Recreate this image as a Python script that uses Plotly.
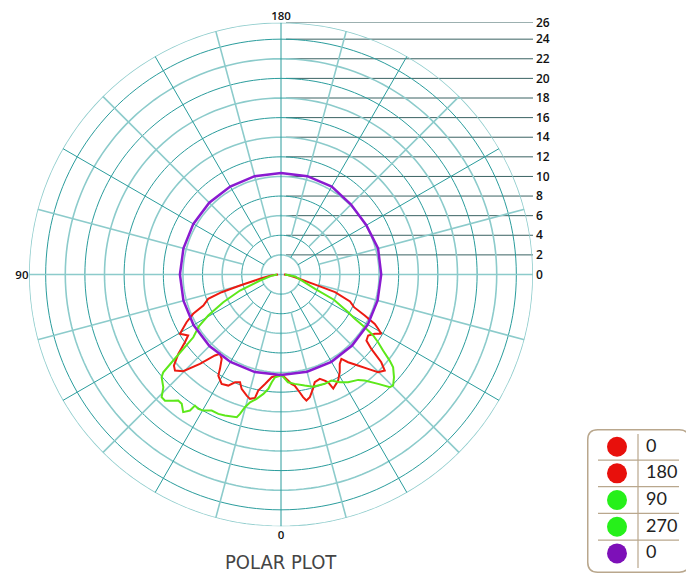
import plotly.graph_objects as go

# ---------------- data ----------------
R_MAX = 25.7                      # outer ring of the polar grid
RADIAL_TICKS = [0, 2, 4, 6, 8, 10, 12, 14, 16, 18, 20, 22, 24, 26]
ANGLE_TICKS = [0, 90, 180]

SERIES_NAMES = ["0", "180", "90", "270", "0"]
LINE_COLORS = ["#ec1b12", "#ec1b12", "#5de81a", "#5de81a", "#8a1ad0"]
MARKER_COLORS = ["#e8100c", "#e8100c", "#26f01a", "#26f01a", "#7d10b8"]

# C0 plane (left half), gamma angle in degrees
RED_0_THETA = [0, 2.4, 5.2, 8.3, 11.1, 11.9, 14.0, 15.8, 19.0, 20.8,
               23.1, 25.4, 28.5, 31.8, 32.9, 35.1, 37.6, 39.2, 42.2, 45.3,
               47.8, 49.6, 52.3, 54.8, 56.7, 59.6, 63.2, 65.9, 68.2, 71.5,
               73.4, 75.0, 78.4, 84, 90]
RED_0_R = [10.2, 10.32, 10.52, 11.28, 12.06, 12.86, 13.07, 12.84, 12.34, 11.76,
           11.95, 12.54, 12.69, 12.13, 11.46, 10.52, 10.21, 10.66, 12.31, 14.02,
           14.59, 14.34, 13.24, 11.99, 11.33, 11.95, 10.79, 9.81, 8.53, 7.83,
           6.32, 4.33, 2.18, 1.0, 0.3]

# C180 plane (right half), gamma angle
RED_180_GAMMA = [0, 2.0, 3.8, 5.4, 7.0, 9.0, 10.2, 11.4, 13.2, 15.6,
                 17.4, 20.4, 22.4, 23.6, 24.0, 24.6, 28.3, 31.0, 33.3, 35.6,
                 37.4, 40.2, 42.7, 44.8, 47.2, 48.8, 49.6, 50.5, 52.3, 55.0,
                 57.7, 59.4, 60.8, 62.2, 63.9, 65.9, 68.7, 71.9, 73.5, 79.0,
                 85, 90]
RED_180_R = [10.2, 10.49, 10.84, 11.2, 11.41, 12.16, 12.71, 13.11, 12.86, 12.11,
             11.51, 11.36, 11.7, 11.99, 12.3, 12.8, 12.29, 11.63, 10.91, 10.58,
             11.26, 12.16, 13.09, 14.05, 14.42, 13.59, 12.77, 11.94, 11.01, 10.85,
             11.32, 11.89, 11.35, 10.81, 9.51, 8.16, 7.55, 5.8, 3.64, 1.46,
             0.7, 0.3]

# C90 plane (left half)
GREEN_90_THETA = [0, 3.3, 4.9, 6.3, 8.4, 11.1, 13.6, 15.2, 16.4, 17.2,
                  21.7, 24.2, 27.0, 29.7, 31.6, 33.3, 33.8, 35.4, 37.5, 39.2,
                  40.5, 42.6, 44.2, 46.2, 49.3, 50.3, 51.4, 52.7, 54.4, 57.8,
                  60.6, 64.4, 68.7, 74.0, 82, 90]
GREEN_90_R = [10.3, 10.5, 11.03, 11.73, 12.31, 12.93, 13.41, 14.03, 14.82, 15.24,
              15.48, 15.59, 15.57, 15.98, 16.09, 15.99, 16.69, 17.22, 16.63, 16.59,
              16.92, 17.48, 17.46, 16.63, 16.06, 15.61, 14.06, 12.52, 11.0, 9.9,
              8.52, 6.53, 4.49, 2.22, 1.0, 0.4]

# C270 plane (right half), gamma angle
GREEN_270_GAMMA = [0, 1.1, 3.7, 7.1, 12.0, 15.9, 21.8, 25.4, 28.6, 31.9,
                   36.2, 38.3, 41.6, 44.0, 45.3, 47.7, 50.4, 51.6, 53.3, 55.1,
                   56.5, 57.8, 59.0, 60.7, 64.5, 67.2, 82, 90]
GREEN_270_R = [10.3, 10.41, 11.01, 11.24, 11.58, 11.89, 12.01, 11.97, 12.51, 12.94,
               13.32, 13.78, 14.92, 15.98, 16.09, 15.58, 14.84, 14.14, 12.98, 12.07,
               11.27, 10.09, 8.78, 7.86, 5.98, 3.77, 1.46, 0.4]

# second luminaire, full circle
PURPLE_THETA = [0, 15, 30, 45, 60, 75, 90, 105, 120, 135, 150, 165, 180,
                195, 210, 225, 240, 255, 270, 285, 300, 315, 330, 345, 360]
PURPLE_R = [10.26, 10.3, 10.3, 10.32, 10.3, 10.3, 10.31, 10.3, 10.32, 10.35, 10.36, 10.38, 10.36,
            10.38, 10.35, 10.1, 10.05, 10.25, 10.22, 10.2, 10.22, 10.25, 10.28, 10.27, 10.26]

# ---------------- styling ----------------
GRID_DARK = "#2a9c9c"
GRID_LIGHT = "#8ccbcb"
HLINE = "#3a6262"
FONT = "Open Sans"
W, H = 694, 574
OFF = 8                            # page body margin of the html page
CX, CY, RPX = 281 - OFF, 274.5 - OFF, 252      # polar centre and radius in pixels
CY_UP = H - CY

fig = go.Figure()

# rings of the polar grid (alternating light / dark)
ring_theta = list(range(0, 361, 2))
for k, v in enumerate(list(range(2, 25, 2)) + [R_MAX]):
    light = (k % 2 == 0) or v == R_MAX
    fig.add_trace(go.Scatterpolar(r=[v] * len(ring_theta), theta=ring_theta, mode="lines",
                                  line=dict(color=GRID_LIGHT if light else GRID_DARK,
                                            width=1.6 if light else 1),
                                  hoverinfo="skip", showlegend=False))

# spokes of the polar grid (every 15 deg, starting at different rings)
for light in (True, False):
    sp_r, sp_t = [], []
    for a in range(0, 360, 15):
        is_light = (a % 30 == 15) or a in (90, 270)
        if is_light != light:
            continue
        start = 0 if a % 90 == 0 else (2 if a % 30 == 0 else 4)
        sp_r += [start, R_MAX, None]
        sp_t += [a, a, None]
    fig.add_trace(go.Scatterpolar(r=sp_r, theta=sp_t, mode="lines",
                                  line=dict(color=GRID_LIGHT if light else GRID_DARK,
                                            width=1.6 if light else 1),
                                  hoverinfo="skip", showlegend=False))

# horizontal scale lines on the right
hx, hy = [], []
for v in RADIAL_TICKS[1:]:
    hx += [0, 1, None]
    hy += [min(v, R_MAX), min(v, R_MAX), None]
fig.add_trace(go.Scatter(x=hx, y=hy, mode="lines", xaxis="x", yaxis="y",
                         line=dict(color=HLINE, width=1),
                         hoverinfo="skip", showlegend=False))

curves = [
    (RED_0_R, RED_0_THETA),
    (RED_180_R, [360 - g for g in RED_180_GAMMA]),
    (GREEN_90_R, GREEN_90_THETA),
    (GREEN_270_R, [360 - g for g in GREEN_270_GAMMA]),
    (PURPLE_R, PURPLE_THETA),
]
for i, (rr, tt) in enumerate(curves):
    fig.add_trace(go.Scatterpolar(r=rr, theta=tt, mode="lines", name=SERIES_NAMES[i],
                                  line=dict(color=LINE_COLORS[i], width=2.5 if i == 4 else 2),
                                  showlegend=False))

# custom legend table (own small cartesian subplot, 1 unit = 1 px)
LEG_X, LEG_Y = 587 - OFF, 429 - OFF
LEG_W, LEG_H = 103, 144
ROW0, ROW_H = 17.7, 26.67
rows = list(range(len(SERIES_NAMES)))
fig.add_trace(go.Scatter(x=[30] * len(rows), y=[ROW0 + ROW_H * i for i in rows],
                         mode="markers", xaxis="x2", yaxis="y2",
                         marker=dict(size=20, color=MARKER_COLORS),
                         hoverinfo="skip", showlegend=False))
fig.add_trace(go.Scatter(x=[59] * len(rows), y=[ROW0 + ROW_H * i + 0.5 for i in rows],
                         mode="text", text=SERIES_NAMES, textposition="middle right",
                         textfont=dict(family="Lato", size=18, color="#222222"),
                         cliponaxis=False,
                         xaxis="x2", yaxis="y2", hoverinfo="skip", showlegend=False))

BORDER = "#b9a78d"
rad = 10
x0, y0, x1, y1 = 0.75, 0.75, LEG_W - 0.75, LEG_H - 0.75
box = (f"M {x0+rad},{y0} L {x1-rad},{y0} Q {x1},{y0} {x1},{y0+rad} "
       f"L {x1},{y1-rad} Q {x1},{y1} {x1-rad},{y1} L {x0+rad},{y1} "
       f"Q {x0},{y1} {x0},{y1-rad} L {x0},{y0+rad} Q {x0},{y0} {x0+rad},{y0} Z")
shapes = [dict(type="path", path=box, xref="x2", yref="y2",
               line=dict(color=BORDER, width=1.5), fillcolor="rgba(0,0,0,0)")]
for i in rows[1:]:
    ys = ROW0 + ROW_H * (i - 0.5)
    shapes.append(dict(type="line", xref="x2", yref="y2", x0=11, x1=92, y0=ys, y1=ys,
                       line=dict(color=BORDER, width=1.2)))
shapes.append(dict(type="line", xref="x2", yref="y2", x0=51, x1=51, y0=5, y1=LEG_H - 5,
                   line=dict(color=BORDER, width=1.2)))

fig.update_layout(
    template="none",
    width=W, height=H,
    margin=dict(l=0, r=0, t=0, b=0, pad=0, autoexpand=False),
    paper_bgcolor="white", plot_bgcolor="rgba(0,0,0,0)",
    showlegend=False,
    polar=dict(
        domain=dict(x=[(CX - RPX) / W, (CX + RPX) / W],
                    y=[(CY_UP - RPX) / H, (CY_UP + RPX) / H]),
        bgcolor="rgba(0,0,0,0)",
        radialaxis=dict(range=[0, R_MAX], showgrid=False,
                        showticklabels=False, showline=False, ticks=""),
        angularaxis=dict(rotation=270, direction="clockwise",
                         tickvals=ANGLE_TICKS, ticktext=[str(a) for a in ANGLE_TICKS],
                         showgrid=False, showline=False, ticks="",
                         tickfont=dict(family=FONT, size=11.5, color="#111111", weight=600)),
    ),
    xaxis=dict(domain=[(286 - OFF) / W, (CX + RPX) / W], range=[0, 1], visible=False,
               fixedrange=True, automargin=False),
    yaxis=dict(domain=[CY_UP / H, (CY_UP + RPX) / H], range=[0, R_MAX], side="right",
               tickvals=[min(v, R_MAX) for v in RADIAL_TICKS],
               ticktext=[str(v) for v in RADIAL_TICKS],
               showgrid=False, zeroline=False, showline=False, ticks="",
               ticklabelstandoff=2, automargin=False,
               tickfont=dict(family=FONT, size=12, color="#111111", weight=600),
               fixedrange=True),
    xaxis2=dict(domain=[LEG_X / W, (LEG_X + LEG_W) / W], range=[0, LEG_W], visible=False,
                fixedrange=True, automargin=False),
    yaxis2=dict(domain=[(H - LEG_Y - LEG_H) / H, (H - LEG_Y) / H], range=[LEG_H, 0],
                visible=False, fixedrange=True, automargin=False),
    shapes=shapes,
    annotations=[dict(text="POLAR PLOT", x=CX / W, y=(H - (562 - OFF)) / H, xref="paper",
                      yref="paper", showarrow=False, xanchor="center", yanchor="middle",
                      font=dict(family="Liberation Sans Narrow, DejaVu Sans Condensed",
                                size=20, color="#444444"))],
)

fig.write_html("out.html")
